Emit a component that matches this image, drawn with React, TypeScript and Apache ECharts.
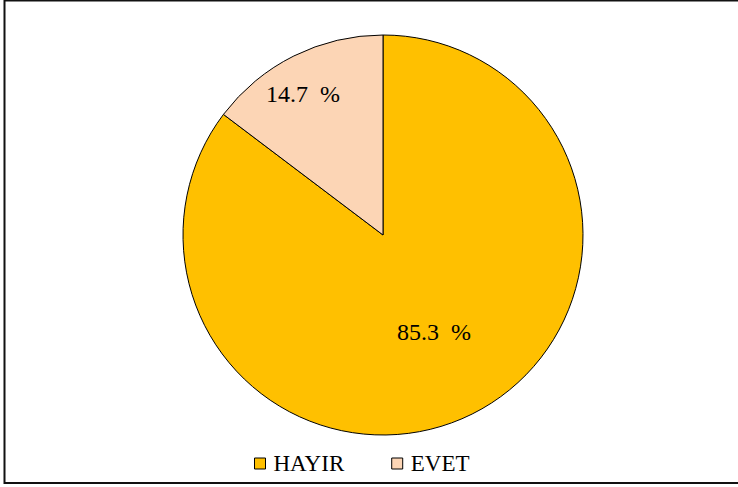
import React, { useEffect, useRef } from "react";
import * as echarts from "echarts";

const categories = ["HAYIR", "EVET"];
const values = [85.3, 14.7];
const colors = ["#FFC000", "#FCD5B5"];
const labelShift = [
  [5, 5],
  [-34, -49],
];

export default function App() {
  const ref = useRef<HTMLDivElement>(null);
  useEffect(() => {
    if (!ref.current) return;
    const chart = echarts.init(ref.current, undefined, { renderer: "svg" });
    chart.setOption({
      animation: false,
      backgroundColor: "#ffffff",
      textStyle: { fontFamily: "Liberation Serif", color: "#000" },
      graphic: [
        {
          type: "rect",
          shape: { x: 4.5, y: 0.5, width: 740, height: 482.5 },
          style: { fill: "none", stroke: "#111", lineWidth: 2 },
          silent: true,
        },
      ],
      legend: {
        left: 254,
        top: 452,
        padding: 0,
        icon: "rect",
        itemWidth: 11,
        itemHeight: 11,
        itemGap: 47,
        textStyle: {
          fontFamily: "Liberation Serif",
          fontSize: 23,
          color: "#000",
          padding: [0, 0, 0, 3],
        },
        itemStyle: { borderColor: "#000", borderWidth: 1 },
        data: categories,
      },
      series: [
        {
          type: "pie",
          center: [383, 235],
          radius: [0, 200],
          startAngle: 90,
          clockwise: true,
          itemStyle: { borderColor: "#000", borderWidth: 1 },
          label: {
            show: true,
            position: "inside",
            fontFamily: "Liberation Serif",
            fontSize: 24,
            color: "#000",
            formatter: (p: any) => `${Number(p.value).toFixed(1)}\u00a0\u00a0%`,
          },
          labelLayout: (p: any) => ({
            dx: labelShift[p.dataIndex][0],
            dy: labelShift[p.dataIndex][1],
          }),
          emphasis: { disabled: true },
          data: categories.map((c, i) => ({
            name: c,
            value: values[i],
            itemStyle: { color: colors[i] },
          })),
        },
      ],
    });
    return () => chart.dispose();
  }, []);
  return (
    <div
      ref={ref}
      style={{ position: "fixed", left: 0, top: 0, width: 738, height: 487 }}
    />
  );
}
